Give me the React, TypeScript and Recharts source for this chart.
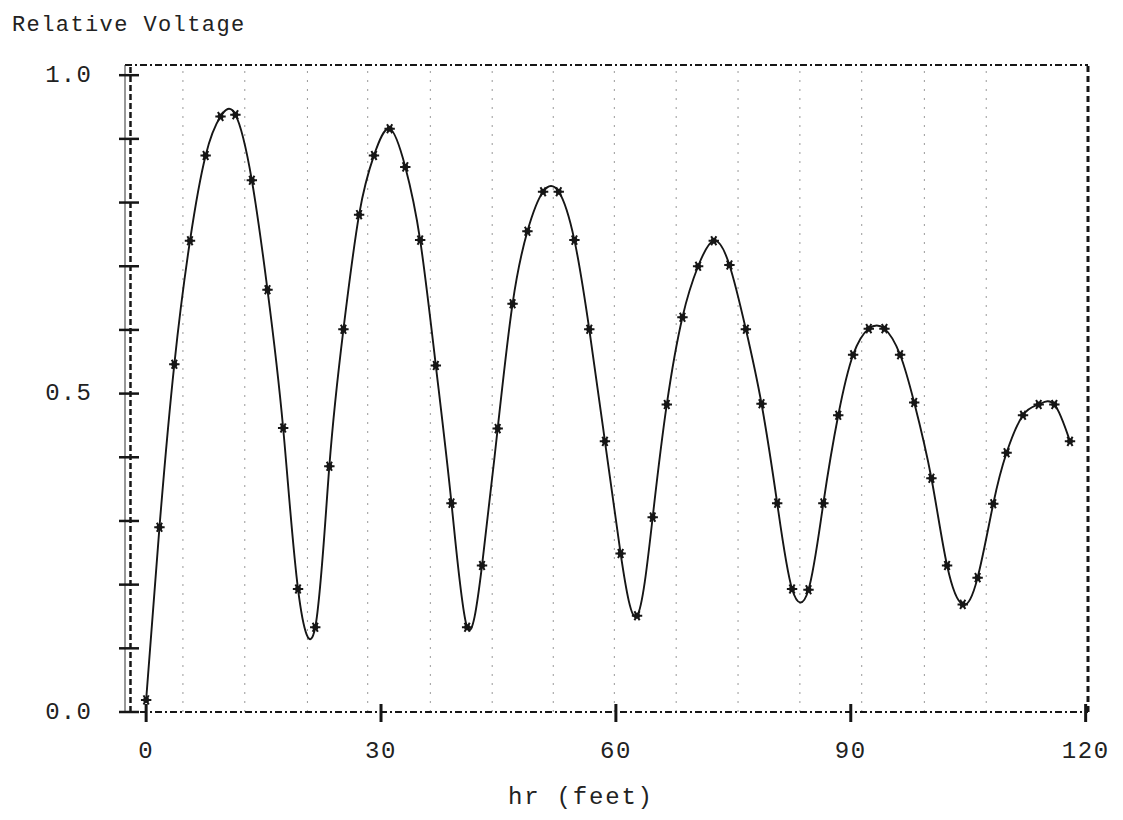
import { LineChart, Line, XAxis, YAxis, ReferenceLine } from 'recharts';

// distance along the run, in feet
const feet = [
  0, 1.7, 3.6, 5.6, 7.6, 9.5, 11.4, 13.5, 15.5, 17.5, 19.4, 21.6, 23.4, 25.2, 27.2, 29.1,
  31.1, 33.1, 35.0, 37.0, 39.0, 41.0, 42.9, 44.9, 46.8, 48.7, 50.7, 52.7, 54.7, 56.6, 58.6,
  60.6, 62.7, 64.7, 66.5, 68.5, 70.5, 72.5, 74.5, 76.6, 78.6, 80.6, 82.5, 84.6, 86.5, 88.4,
  90.3, 92.3, 94.3, 96.3, 98.1, 100.3, 102.3, 104.3, 106.2, 108.2, 109.9, 112.0, 114.0, 116.0, 118.0,
];

const relVoltage = [
  0.019, 0.29, 0.546, 0.74, 0.874, 0.935, 0.938, 0.835, 0.663, 0.446, 0.193, 0.133, 0.386, 0.601, 0.781, 0.874,
  0.916, 0.856, 0.741, 0.544, 0.328, 0.133, 0.23, 0.445, 0.641, 0.755, 0.817, 0.817, 0.741, 0.601, 0.425,
  0.249, 0.151, 0.306, 0.483, 0.62, 0.7, 0.74, 0.702, 0.601, 0.484, 0.328, 0.193, 0.192, 0.328, 0.466,
  0.561, 0.602, 0.602, 0.561, 0.486, 0.367, 0.23, 0.169, 0.211, 0.327, 0.407, 0.466, 0.483, 0.483, 0.425,
];

const xTicks = [0, 30, 60, 90, 120];
const yTicks = [0, 0.1, 0.2, 0.3, 0.4, 0.5, 0.6, 0.7, 0.8, 0.9, 1];
const yTickLabels: Record<string, string> = { '0': '0.0', '0.5': '0.5', '1': '1.0' };
// faint vertical guide lines of the original plot
const guideFeet = [4.7, 12.6, 20.6, 28.3, 36.3, 44.2, 52.0, 59.8, 67.7, 75.6, 83.5, 91.4, 99.4, 107.3];

const data = feet.map((x, i) => ({ x, v: relVoltage[i] }));

const FONT = '"Liberation Mono", "DejaVu Sans Mono", monospace';
const INK = '#161616';
const PLOT_LEFT = 125;
const PLOT_BOTTOM = 712;

function StarDot(props: any) {
  const { cx, cy } = props;
  if (cx == null || cy == null) return null;
  const r = 5.2;
  const a = r * 0.5;
  const b = r * 0.87;
  return (
    <g>
      <circle cx={cx} cy={cy} r={3} fill={INK} />
      <path
        d={`M${cx - r},${cy}L${cx + r},${cy}M${cx - a},${cy - b}L${cx + a},${cy + b}M${cx - a},${cy + b}L${cx + a},${cy - b}`}
        stroke={INK}
        strokeWidth={2}
      />
    </g>
  );
}

function XTick({ x, payload }: any) {
  return (
    <g>
      <line x1={x} x2={x} y1={PLOT_BOTTOM - 8} y2={PLOT_BOTTOM + 10} stroke={INK} strokeWidth={3} />
      <text x={x} y={751} textAnchor="middle" dominantBaseline="central" fontFamily={FONT} fontSize={24} letterSpacing={1.6} fill="#222">
        {payload.value}
      </text>
    </g>
  );
}

function YTick({ y, payload }: any) {
  const label = yTickLabels[String(payload.value)];
  return (
    <g>
      <line x1={PLOT_LEFT - 6} x2={PLOT_LEFT + 14} y1={y} y2={y} stroke={INK} strokeWidth={2.5} />
      {label && (
        <text x={92} y={y} textAnchor="end" dominantBaseline="central" fontFamily={FONT} fontSize={24} letterSpacing={1.2} fill="#222">
          {label}
        </text>
      )}
    </g>
  );
}

export default function App() {
  return (
    <div style={{ position: 'absolute', left: 0, top: 0, width: 1123, height: 820, background: '#fff' }}>
      <div
        style={{ position: 'absolute', left: 12, top: 13, fontFamily: FONT, fontSize: 22, letterSpacing: 1.4, color: '#222', whiteSpace: 'nowrap' }}
      >
        Relative Voltage
      </div>
      <LineChart width={1123} height={820} data={data} margin={{ top: 65, right: 35, bottom: 0, left: 0 }}>
        <XAxis
          dataKey="x"
          type="number"
          domain={[-2.7, 120.3]}
          ticks={xTicks}
          interval={0}
          allowDataOverflow
          tick={<XTick />}
          tickLine={false}
          axisLine={{ stroke: INK, strokeWidth: 2.2, strokeDasharray: '7 3 2 3' }}
          height={108}
        />
        <YAxis
          type="number"
          domain={[0, 1.016]}
          ticks={yTicks}
          interval={0}
          allowDataOverflow
          tick={<YTick />}
          tickLine={false}
          axisLine={{ stroke: '#333', strokeWidth: 1 }}
          width={125}
        />
        {guideFeet.map((g) => (
          <ReferenceLine key={g} x={g} stroke="#999" strokeWidth={1} strokeDasharray="2 7" />
        ))}
        <ReferenceLine y={1.016} stroke={INK} strokeWidth={2.2} strokeDasharray="7 3 2 3" />
        <ReferenceLine x={-2} stroke={INK} strokeWidth={2.5} strokeDasharray="6 3" />
        <ReferenceLine x={120.3} stroke={INK} strokeWidth={3} strokeDasharray="6 4" />
        <Line
          type="natural"
          dataKey="v"
          stroke={INK}
          strokeWidth={1.9}
          dot={<StarDot />}
          activeDot={false}
          isAnimationActive={false}
        />
      </LineChart>
      <div
        style={{ position: 'absolute', left: 508, top: 784, fontFamily: FONT, fontSize: 24, letterSpacing: 1.8, color: '#222', whiteSpace: 'nowrap' }}
      >
        hr (feet)
      </div>
    </div>
  );
}
